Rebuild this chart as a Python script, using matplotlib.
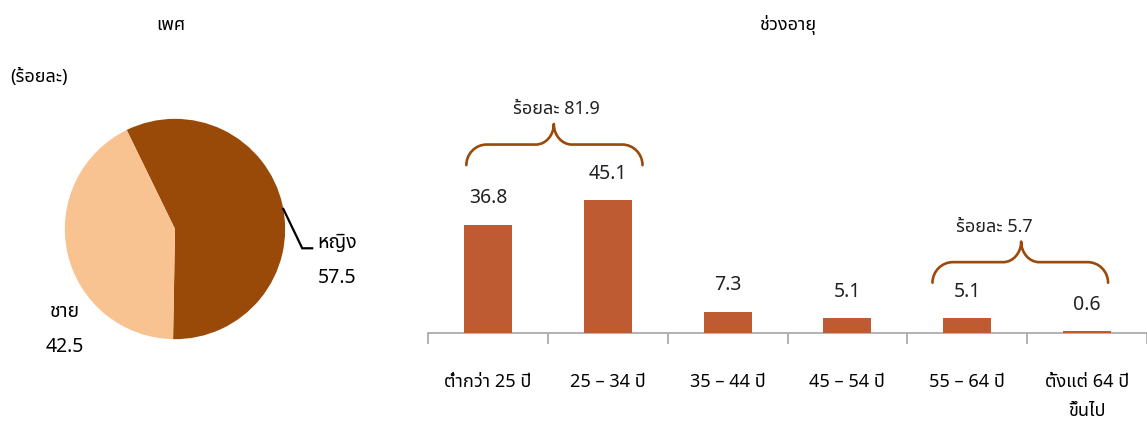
import numpy as np
import matplotlib
matplotlib.use("Agg")
import matplotlib.pyplot as plt
from matplotlib.path import Path
from matplotlib.patches import PathPatch

# fonts -- need a family with Thai glyphs
plt.rcParams['font.family'] = ['Noto Sans Thai', 'DejaVu Sans']

# ---- data ----
sex_labels = ['หญิง', 'ชาย']
sex_values = [57.5, 42.5]
sex_colors = ['#994a09', '#f8c291']

age_labels = ['ต่ำกว่า 25 ปี', '25 – 34 ปี', '35 – 44 ปี', '45 – 54 ปี', '55 – 64 ปี',
              'ตั้งแต่ 64 ปี\nขึ้นไป']
age_values = [36.8, 45.1, 7.3, 5.1, 5.1, 0.6]
group_idx = [(0, 1), (4, 5)]
group_text = ['ร้อยละ 81.9', 'ร้อยละ 5.7']

# brace placement tweaks (left end, right end, tip, text) relative to the bars
brace_off = [(-0.18, 0.29, 0.05, 0.07), (-0.29, 0.175, -0.05, -0.27)]

bar_color = '#bf5b33'
brace_color = '#9a4a0a'
axis_gray = '#a6a6a6'

W, H = 1147, 429
fig = plt.figure(figsize=(W / 100, H / 100), dpi=100)

# ---- pie ----
pc = (175, 229)
half = 130
axp = fig.add_axes([(pc[0] - half) / W, (H - pc[1] - half) / H, 2 * half / W, 2 * half / H])
axp.pie(sex_values, colors=sex_colors, startangle=-91, counterclock=True, radius=1.0,
        wedgeprops=dict(linewidth=0))
axp.set_xlim(-1.18, 1.18)
axp.set_ylim(-1.18, 1.18)
axp.set_aspect('equal')
axp.axis('off')

# leader line for women slice
theta = np.deg2rad(-91 + 360 * sex_values[0] / sum(sex_values) / 2 - 2)
lx = [np.cos(theta), 1.155, 1.245]
ly = [np.sin(theta), -0.175, -0.175]
axp.plot(lx, ly, color='black', lw=1.6, clip_on=False, solid_joinstyle='miter')
axp.text(1.29, -0.125, sex_labels[0], fontsize=14, ha='left', va='center', clip_on=False)
axp.text(1.47, -0.445, '%.1f' % sex_values[0], fontsize=14, ha='center', va='center', clip_on=False)
axp.text(-1.0, -0.75, sex_labels[1], fontsize=14, ha='center', va='center', clip_on=False)
axp.text(-1.0, -1.07, '%.1f' % sex_values[1], fontsize=14, ha='center', va='center', clip_on=False)

fig.text(171 / W, 1 - 25 / H, 'เพศ', fontsize=13, ha='center', va='center')
fig.text(10 / W, 1 - 77 / H, '(ร้อยละ)', fontsize=13, ha='left', va='center')
fig.text(788 / W, 1 - 25 / H, 'ช่วงอายุ', fontsize=13, ha='center', va='center')

# ---- bars ----
base_y = 333
top_y = 60
axb = fig.add_axes([428 / W, (H - base_y) / H, (W - 428) / W, (base_y - top_y) / H])
x = np.arange(len(age_values))
axb.bar(x, age_values, width=0.4, color=bar_color, zorder=3)
axb.set_xlim(-0.5, len(age_values) - 0.5)
axb.set_ylim(0, (base_y - top_y) / 2.94)
for s in ['top', 'right', 'left']:
    axb.spines[s].set_visible(False)
axb.spines['bottom'].set_color(axis_gray)
axb.spines['bottom'].set_linewidth(1.2)
axb.set_yticks([])
axb.set_xticks(x)
axb.set_xticklabels(age_labels, fontsize=13, linespacing=1.75)
axb.tick_params(axis='x', which='major', length=0, pad=29)
axb.set_xticks(np.arange(len(age_values) + 1) - 0.5, minor=True)
axb.tick_params(axis='x', which='minor', length=8, width=1.2, color=axis_gray, direction='out')

for xi, v in zip(x, age_values):
    axb.annotate('%.1f' % v, (xi, v), xytext=(0, 19), textcoords='offset points',
                 ha='center', va='center', fontsize=14, color='#222222')


# curly brace drawn as bezier path
def brace(ax, x0, x1, xt, y0, color):
    h = 7.0
    yh = y0 + h
    yt = y0 + 14.0
    r = 0.17
    ri = 0.15
    k = 0.55
    verts = [(x0, y0),
             (x0, y0 + k * h), (x0 + (1 - k) * r, yh), (x0 + r, yh),
             (xt - ri, yh),
             (xt - (1 - k) * ri, yh), (xt, yh + (1 - k) * h), (xt, yt),
             (xt, yh + (1 - k) * h), (xt + (1 - k) * ri, yh), (xt + ri, yh),
             (x1 - r, yh),
             (x1 - (1 - k) * r, yh), (x1, y0 + k * h), (x1, y0)]
    codes = [Path.MOVETO,
             Path.CURVE4, Path.CURVE4, Path.CURVE4,
             Path.LINETO,
             Path.CURVE4, Path.CURVE4, Path.CURVE4,
             Path.CURVE4, Path.CURVE4, Path.CURVE4,
             Path.LINETO,
             Path.CURVE4, Path.CURVE4, Path.CURVE4]
    ax.add_patch(PathPatch(Path(verts, codes), fill=False, edgecolor=color, lw=1.9,
                           capstyle='round', joinstyle='round', clip_on=False))
    return yt


for (a, b), txt, off in zip(group_idx, group_text, brace_off):
    top = max(age_values[a], age_values[b])
    y0 = top + 12.0
    mid = (a + b) / 2
    yt = brace(axb, a + off[0], b + off[1], mid + off[2], y0, brace_color)
    axb.text(mid + off[3], yt + 5.0, txt, fontsize=13, ha='center', va='center',
             color='#222222')

fig.savefig('out.png', dpi=100)
